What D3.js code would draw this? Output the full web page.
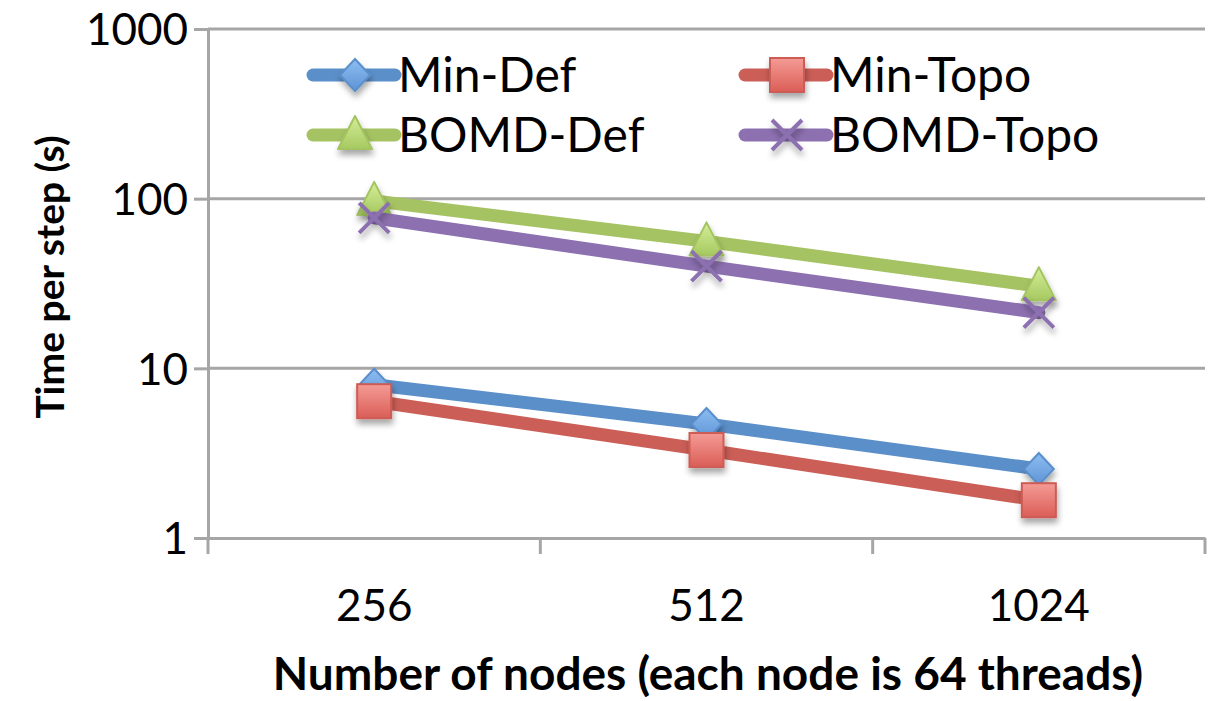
<!DOCTYPE html>
<html>
<head>
<meta charset="utf-8">
<script src="https://cdn.jsdelivr.net/npm/d3@7"></script>
<style>
  body { margin: 0; background: #fff; }
  text { font-family: Lato, "Open Sans", sans-serif; fill: #000; }
</style>
</head>
<body>
<svg id="chart" width="1217" height="701"></svg>
<script>
// chart data
const categories = ['256', '512', '1024'];
const seriesNames = ['Min-Def', 'Min-Topo', 'BOMD-Def', 'BOMD-Topo'];
const minDef = [8.0, 4.7, 2.55];
const minTopo = [6.4, 3.3, 1.67];
const bomdDef = [97, 56, 30.5];
const bomdTopo = [77, 40, 21.3];
const yTicks = [1, 10, 100, 1000];

const values = [minDef, minTopo, bomdDef, bomdTopo];
const colors = ['#5B8FC9', '#CB5E56', '#A5C363', '#8C70B0'];
const shapes = ['diamond', 'square', 'triangle', 'cross'];

const svg = d3.select('#chart');
const plotLeft = 208, plotRight = 1205, plotTop = 29, plotBottom = 538;

const x = d3.scaleBand().domain(categories).range([plotLeft, plotRight]).padding(0);
const y = d3.scaleLog().domain([1, 1000]).range([plotBottom, plotTop]);

// defs: gradients + shadow
const defs = svg.append('defs');
const grads = [['#8DBDF2', '#5E94D4'], ['#F59B95', '#DA5E57'], ['#D4EE98', '#A6C960'], ['#A48BC4', '#8C70B0']];
grads.forEach((g, i) => {
  const lg = defs.append('linearGradient').attr('id', 'g' + i)
    .attr('x1', 0).attr('y1', 0).attr('x2', 0).attr('y2', 1);
  lg.append('stop').attr('offset', '0%').attr('stop-color', g[0]);
  lg.append('stop').attr('offset', '100%').attr('stop-color', g[1]);
});
const f = defs.append('filter').attr('id', 'shadow')
  .attr('x', '-50%').attr('y', '-50%').attr('width', '200%').attr('height', '200%');
f.append('feDropShadow').attr('dx', 1).attr('dy', 5).attr('stdDeviation', 3)
  .attr('flood-color', '#000').attr('flood-opacity', 0.35);

// gridlines
svg.append('g').selectAll('line')
  .data(yTicks.slice(1))
  .join('line')
  .attr('x1', plotLeft).attr('x2', plotRight)
  .attr('y1', d => y(d)).attr('y2', d => y(d))
  .attr('stroke', '#A6A6A6').attr('stroke-width', 3);

// y axis
const yAxis = svg.append('g').attr('transform', `translate(${plotLeft},0)`)
  .call(d3.axisLeft(y).tickValues(yTicks).tickFormat(d3.format('d')).tickSize(14).tickPadding(6));
yAxis.select('.domain').attr('stroke', '#A6A6A6').attr('stroke-width', 3);
yAxis.selectAll('.tick line').attr('stroke', '#A6A6A6').attr('stroke-width', 3);
yAxis.selectAll('.tick text').attr('font-size', 44).attr('font-family', 'Lato').attr('fill', '#000').attr('dy', '0.36em');

// x axis
const xAxis = svg.append('g').attr('transform', `translate(0,${plotBottom})`)
  .call(d3.axisBottom(x).tickSize(0).tickPadding(52));
xAxis.select('.domain').attr('stroke', '#A6A6A6').attr('stroke-width', 3);
xAxis.selectAll('.tick text').attr('font-size', 44).attr('font-family', 'Lato').attr('fill', '#000');
// category boundary ticks
const bounds = categories.map(c => x(c)).concat([plotRight]);
svg.append('g').selectAll('line')
  .data(bounds)
  .join('line')
  .attr('x1', d => d).attr('x2', d => d)
  .attr('y1', plotBottom).attr('y2', plotBottom + 16)
  .attr('stroke', '#A6A6A6').attr('stroke-width', 3);

// axis titles
svg.append('text')
  .attr('x', 708).attr('y', 690)
  .attr('text-anchor', 'middle')
  .attr('font-size', 46).attr('font-weight', 'bold')
  .text('Number of nodes (each node is 64 threads)');
svg.append('text')
  .attr('transform', 'translate(64,277) rotate(-90)')
  .attr('text-anchor', 'middle')
  .attr('font-size', 39).attr('font-weight', 'bold')
  .text('Time per step (s)');

function drawMarker(g, shape, i, cx, cy) {
  const m = g.append('g').attr('transform', `translate(${cx},${cy})`).attr('filter', 'url(#shadow)');
  if (shape === 'diamond') {
    m.append('path').attr('d', 'M0,-16L15,0L0,16L-15,0Z')
      .attr('fill', `url(#g${i})`).attr('stroke', '#5A8FCC').attr('stroke-width', 2);
  } else if (shape === 'square') {
    m.append('rect').attr('x', -17).attr('y', -17).attr('width', 34).attr('height', 34)
      .attr('fill', `url(#g${i})`).attr('stroke', '#CC5C54').attr('stroke-width', 2);
  } else if (shape === 'triangle') {
    m.append('path').attr('d', 'M0,-19L17,14L-17,14Z')
      .attr('fill', `url(#g${i})`).attr('stroke', '#A3C460').attr('stroke-width', 2).attr('stroke-linejoin', 'round');
  } else {
    m.append('path').attr('d', 'M-15,-15L15,15M15,-15L-15,15')
      .attr('stroke', colors[i]).attr('stroke-width', 4);
  }
}

// series
const line = d3.line().x((d, j) => x(categories[j]) + x.bandwidth() / 2).y(d => y(d));
values.forEach((vals, i) => {
  const g = svg.append('g');
  g.append('path').datum(vals)
    .attr('d', line)
    .attr('fill', 'none')
    .attr('stroke', colors[i])
    .attr('stroke-width', 13)
    .attr('stroke-linecap', 'round')
    .attr('stroke-linejoin', 'round');
  vals.forEach((v, j) => drawMarker(g, shapes[i], i, x(categories[j]) + x.bandwidth() / 2, y(v)));
});

// legend
const legendPos = [[313, 75], [745, 75], [313, 135], [745, 135]];
seriesNames.forEach((name, i) => {
  const [lx, ly] = legendPos[i];
  const g = svg.append('g');
  g.append('line').attr('x1', lx).attr('x2', lx + 82).attr('y1', ly).attr('y2', ly)
    .attr('stroke', colors[i]).attr('stroke-width', 13).attr('stroke-linecap', 'round');
  drawMarker(g, shapes[i], i, lx + 42, ly);
  g.append('text').attr('x', lx + 85).attr('y', ly).attr('dy', '0.36em')
    .attr('font-size', 48).text(name);
});
</script>
</body>
</html>
